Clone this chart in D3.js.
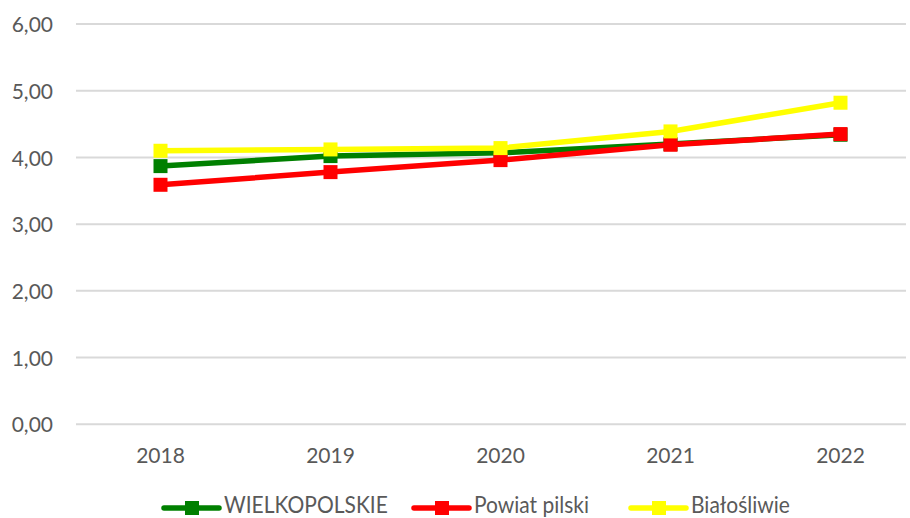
<!DOCTYPE html>
<html>
<head>
<meta charset="utf-8">
<script src="https://cdn.jsdelivr.net/npm/d3@7"></script>
<style>
  html, body { margin: 0; padding: 0; background: #fff; }
  svg { display: block; font-family: Lato, "Liberation Sans", Arial, sans-serif; }
</style>
</head>
<body>
<svg id="chart" width="910" height="518"></svg>
<script>
// Years on the x axis
const years = ["2018", "2019", "2020", "2021", "2022"];

// Series values
const wielkopolskie = [3.87, 4.02, 4.07, 4.20, 4.34];
const powiatPilski  = [3.59, 3.78, 3.96, 4.19, 4.35];
const bialosliwie   = [4.10, 4.12, 4.14, 4.39, 4.82];

const seriesNames  = ["WIELKOPOLSKIE", "Powiat pilski", "Białośliwie"];
const seriesColors = ["#008000", "#ff0000", "#ffff00"];

// Y axis ticks
const yTicks = [0, 1, 2, 3, 4, 5, 6];

const series = [
  { name: seriesNames[0], color: seriesColors[0], values: wielkopolskie },
  { name: seriesNames[1], color: seriesColors[1], values: powiatPilski },
  { name: seriesNames[2], color: seriesColors[2], values: bialosliwie }
];

const svg = d3.select("#chart");
const textColor = "#595959";
const fontSize = "21px";

const x = d3.scaleBand().domain(years).range([75.5, 925.5]);
const y = d3.scaleLinear().domain([0, 6]).range([424.3, 24]);

// Horizontal gridlines
svg.append("g")
  .selectAll("line")
  .data(yTicks)
  .join("line")
  .attr("x1", 76).attr("x2", 906)
  .attr("y1", d => y(d)).attr("y2", d => y(d))
  .attr("stroke", "#d9d9d9")
  .attr("stroke-width", 2);

// Y axis labels
const yAxis = d3.axisLeft(y).tickValues(yTicks)
  .tickFormat(d => d3.format(".2f")(d).replace(".", ","))
  .tickSize(0).tickPadding(0);
const gy = svg.append("g").attr("transform", "translate(53,0)").call(yAxis);
gy.select(".domain").remove();
gy.selectAll("text")
  .attr("fill", textColor)
  .attr("dy", "7.6px")
  .style("font-size", fontSize)
  .style("font-family", "Lato, 'Liberation Sans', Arial, sans-serif");

// X axis labels
const xAxis = d3.axisBottom(x).tickSize(0).tickPadding(0);
const gx = svg.append("g").attr("transform", "translate(0,463.3)").call(xAxis);
gx.select(".domain").remove();
gx.selectAll("text")
  .attr("fill", textColor)
  .attr("y", 0)
  .attr("dy", 0)
  .style("font-size", fontSize)
  .style("font-family", "Lato, 'Liberation Sans', Arial, sans-serif");

// Lines and square markers
const cx = i => x(years[i]) + x.bandwidth() / 2;
const line = d3.line().x((d, i) => cx(i)).y(d => y(d));

const gs = svg.append("g")
  .selectAll("g")
  .data(series)
  .join("g");

gs.append("path")
  .attr("d", d => line(d.values))
  .attr("fill", "none")
  .attr("stroke", d => d.color)
  .attr("stroke-width", 5.5)
  .attr("stroke-linejoin", "round");

const m = 14;
gs.selectAll("rect")
  .data(d => d.values.map((v, i) => ({ v, i, color: d.color })))
  .join("rect")
  .attr("x", d => cx(d.i) - m / 2)
  .attr("y", d => y(d.v) - m / 2)
  .attr("width", m)
  .attr("height", m)
  .attr("fill", d => d.color);

// Legend along the bottom edge
const legendX = [164, 414, 631];
const legendY = 508;
const lg = svg.append("g")
  .selectAll("g")
  .data(series)
  .join("g")
  .attr("transform", (d, i) => `translate(${legendX[i]},${legendY})`);

lg.append("line")
  .attr("x1", 0).attr("x2", 55)
  .attr("stroke", d => d.color)
  .attr("stroke-width", 5.5)
  .attr("stroke-linecap", "round");
lg.append("rect")
  .attr("x", 28 - m / 2).attr("y", -m / 2)
  .attr("width", m).attr("height", m)
  .attr("fill", d => d.color);
lg.append("text")
  .attr("transform", "translate(60,5) scale(1,1.1)")
  .attr("fill", textColor)
  .style("font-size", fontSize)
  .text(d => d.name);
</script>
</body>
</html>
